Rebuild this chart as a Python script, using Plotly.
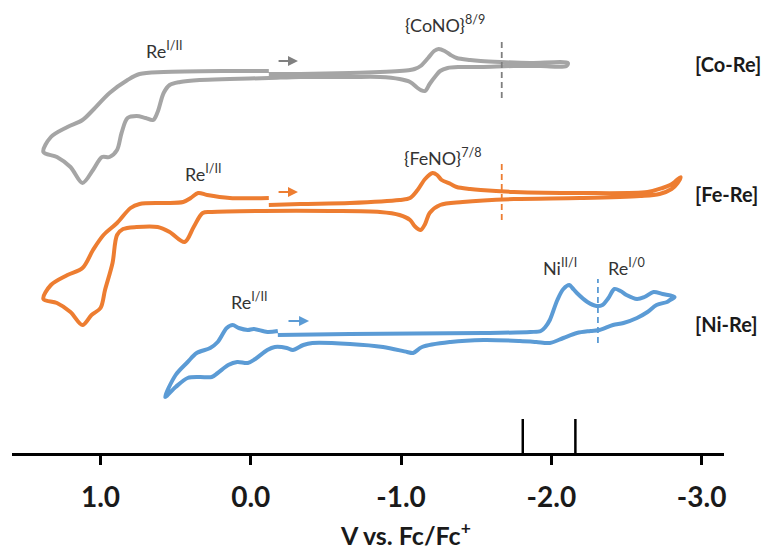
import plotly.graph_objects as go

# ---- Cyclic voltammograms: potential (V vs. Fc/Fc+) and current (a.u.) ----
# Each list runs in scan order: cathodic sweep -> anodic return -> back to start.

co_re_potential = [
    -0.12, -0.33, -0.66, -0.86, -0.99, -1.06, -1.09, -1.13, -1.18, -1.22, -1.25, -1.29,
    -1.33, -1.37, -1.46, -1.53, -1.66, -1.86, -2.11,
    -2.10, -1.93, -1.75, -1.53, -1.39, -1.31, -1.26, -1.23, -1.19, -1.16, -1.13, -1.11,
    -1.06, -0.99, -0.86, -0.66, -0.33, -0.12, 0.14, 0.34, 0.47, 0.54, 0.58, 0.62, 0.65,
    0.70, 0.76, 0.82, 0.86, 0.89, 0.94, 0.99, 1.05, 1.12, 1.20, 1.29, 1.38,
    1.33, 1.22, 1.12, 1.05, 0.94, 0.82, 0.74, 0.58, 0.14, -0.12,
]
co_re_current = [
    1, 1, 2, 3, 4, 5, 6, 9, 17, 24, 26, 24,
    20, 17, 15, 14, 13, 12, 12,
    9, 9, 9, 8, 8, 7, 4, -1, -9, -16, -15, -13,
    -7, -4, -2, -2, -2, -3, -4, -5, -7, -10, -18, -37, -45,
    -43, -41, -43, -58, -75, -82, -82, -95, -108, -92, -82, -77,
    -62, -52, -45, -35, -18, -5, 1, 3, 4, 4,
]

fe_re_potential = [
    -0.12, -0.33, -0.66, -0.99, -1.06, -1.11, -1.16, -1.21, -1.24, -1.27, -1.33, -1.37,
    -1.46, -1.53, -1.75, -2.19, -2.64, -2.74, -2.79, -2.82, -2.86,
    -2.84, -2.80, -2.72, -2.59, -2.19, -1.75, -1.41, -1.26, -1.19, -1.16, -1.13, -1.09,
    -1.06, -0.99, -0.86, -0.53, -0.08, 0.26, 0.32, 0.38, 0.44, 0.54, 0.62, 0.76,
    0.85, 0.89, 0.92, 0.97, 1.00, 1.06, 1.12, 1.20, 1.29, 1.38,
    1.33, 1.22, 1.12, 1.05, 0.98, 0.89, 0.80, 0.74, 0.58, 0.45, 0.40, 0.35, 0.29, 0.14, -0.12,
]
fe_re_current = [
    0, 1, 2, 5, 7, 15, 26, 32, 30, 25, 21, 18,
    16, 15, 13, 12, 13, 17, 20, 23, 28,
    22, 16, 11, 9, 7, 6, 3, 0, -8, -19, -25, -21,
    -15, -10, -7, -6, -6, -7, -8, -22, -37, -27, -22, -22,
    -24, -30, -58, -85, -103, -110, -120, -107, -98, -94,
    -80, -70, -63, -45, -30, -18, -3, 1, 2, 3, 7, 12, 10, 7, 7,
]

ni_re_potential = [
    -0.18, -0.66, -1.55, -1.86, -1.93, -1.96, -1.99, -2.04, -2.08, -2.12, -2.14, -2.17,
    -2.24, -2.30, -2.34, -2.38, -2.42, -2.46, -2.50, -2.57, -2.62, -2.68, -2.74, -2.82,
    -2.79, -2.77, -2.70, -2.64, -2.57, -2.48, -2.41, -2.32, -2.26, -2.17, -2.08, -1.99,
    -1.90, -1.79, -1.55, -1.33, -1.14, -1.08, -1.04, -0.88, -0.66, -0.41, -0.35, -0.28,
    -0.24, -0.16, -0.11, -0.03, 0.02, 0.09, 0.15, 0.22, 0.26, 0.34, 0.42, 0.50, 0.57,
    0.50, 0.42, 0.36, 0.27, 0.22, 0.16, 0.12, 0.08, 0.02, -0.02, -0.11, -0.18,
]
ni_re_current = [
    0, 1, 2, 3, 4, 8, 15, 35, 46, 50, 47, 42,
    33, 29, 30, 37, 46, 44, 40, 36, 38, 43, 41, 38,
    35, 33, 30, 23, 17, 12, 10, 5, 4, 2, -3, -8,
    -7, -6, -5, -7, -12, -18, -17, -12, -9, -8, -10, -15,
    -13, -12, -15, -24, -28, -27, -30, -38, -42, -42, -43, -52, -62,
    -40, -27, -18, -13, -7, 7, 10, 7, 5, 6, 3, 4,
]

# vertical stacking of the three voltammograms (a.u.)
trace_offsets = {"Co-Re": 378, "Fe-Re": 248, "Ni-Re": 118}
trace_colors = {"Co-Re": "#a5a5a5", "Fe-Re": "#ed7d31", "Ni-Re": "#5b9bd5"}

# dashed markers: potential and current extent relative to each trace
dash_potential = {"Co-Re": -1.67, "Fe-Re": -1.67, "Ni-Re": -2.31}
dash_current = {"Co-Re": (-23, 33), "Fe-Re": (-15, 42), "Ni-Re": (-8, 56)}

# reference potentials marked on the axis
axis_marks = [-1.81, -2.16]

tick_values = [1.0, 0.0, -1.0, -2.0, -3.0]
tick_labels = ["1.0", "0.0", "-1.0", "-2.0", "-3.0"]

FONT = "Lato"

fig = go.Figure()

series = {
    "Co-Re": (co_re_potential, co_re_current),
    "Fe-Re": (fe_re_potential, fe_re_current),
    "Ni-Re": (ni_re_potential, ni_re_current),
}
for name, (pot, cur) in series.items():
    off = trace_offsets[name]
    fig.add_trace(go.Scatter(
        x=pot, y=[c + off for c in cur], mode="lines", name=name,
        line=dict(color=trace_colors[name], width=4, shape="spline", smoothing=0.9),
        hoverinfo="skip", showlegend=False,
    ))
    lo, hi = dash_current[name]
    fig.add_shape(type="line", xref="x", yref="y",
                  x0=dash_potential[name], x1=dash_potential[name],
                  y0=off + lo, y1=off + hi,
                  line=dict(color=trace_colors[name] if name != "Co-Re" else "#7f7f7f",
                            width=1.8, dash="6px,4px"))

for v in axis_marks:
    fig.add_shape(type="line", xref="x", yref="y", x0=v, x1=v, y0=0, y1=34,
                  line=dict(color="black", width=2.5))

# scan-direction arrows
arrows = [("Co-Re", -0.175, -0.314, 14, "#808080"),
          ("Fe-Re", -0.175, -0.314, 13, "#ed7d31"),
          ("Ni-Re", -0.241, -0.388, 14, "#5b9bd5")]
for name, x_tail, x_head, dy, col in arrows:
    yy = trace_offsets[name] + dy
    fig.add_annotation(x=x_head, y=yy, ax=x_tail, ay=yy, xref="x", yref="y",
                       axref="x", ayref="y", showarrow=True, arrowhead=2,
                       arrowsize=1, arrowwidth=2, arrowcolor=col, text="")

labels = [
    ("Re<sup>I/II</sup>", 0.58, 403),
    ("{CoNO}<sup>8/9</sup>", -1.29, 429),
    ("Re<sup>I/II</sup>", 0.32, 280),
    ("{FeNO}<sup>7/8</sup>", -1.28, 296),
    ("Ni<sup>II/I</sup>", -2.06, 186),
    ("Re<sup>I/0</sup>", -2.50, 186),
    ("Re<sup>I/II</sup>", 0.01, 152),
]
for txt, x, y in labels:
    fig.add_annotation(x=x, y=y, xref="x", yref="y", text=txt, showarrow=False,
                       font=dict(family=FONT, size=18, color="#333333"))

for name in ["Co-Re", "Fe-Re", "Ni-Re"]:
    fig.add_annotation(x=-2.943, y=trace_offsets[name] + 11, xref="x", yref="y",
                       xanchor="left", text=f"<b>[{name}]</b>", showarrow=False,
                       font=dict(family=FONT, size=20, color="#1a1a1a"))

fig.add_annotation(x=-1.03, y=-0.178, xref="x", yref="paper", yanchor="middle",
                   text="<b>V vs. Fc/Fc<sup>+</sup></b>", showarrow=False,
                   font=dict(family=FONT, size=25, color="#1a1a1a"))

fig.update_layout(
    width=764, height=550,
    margin=dict(l=12, r=40, t=0, b=97),
    plot_bgcolor="white", paper_bgcolor="white",
    xaxis=dict(range=[1.589, -3.149], showgrid=False, zeroline=False,
               showline=True, linecolor="black", linewidth=3,
               ticks="outside", ticklen=9, tickwidth=2.5, tickcolor="black",
               tickvals=tick_values, ticktext=tick_labels,
               ticklabelstandoff=8,
               tickfont=dict(family=FONT, size=28, color="#1a1a1a", weight="bold")),
    yaxis=dict(range=[0, 453], visible=False, fixedrange=True),
)

fig.write_html("out.html")
